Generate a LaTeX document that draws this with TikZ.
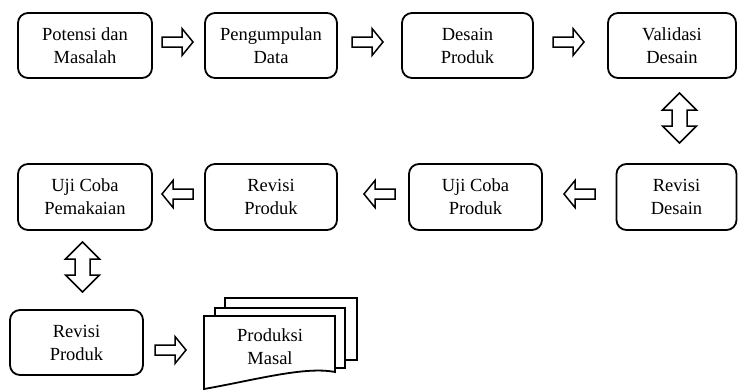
\documentclass[tikz,border=0pt]{standalone}
\usepackage{fontspec}
\setmainfont{Liberation Serif}
\begin{document}
\begin{tikzpicture}[x=1bp,y=-1bp,
  box/.style={draw, line width=1.8bp, rounded corners=10bp, inner sep=0pt,
    minimum height=65bp, align=center,
    font=\fontsize{18.5bp}{23bp}\selectfont},
  arrowline/.style={draw, line width=1.5bp, fill=white, line join=miter},
  docline/.style={draw, line width=1.8bp, fill=white},
  rarrow/.pic={\path[arrowline] (0,-5)--(20,-5)--(20,-13.5)--(31,0)--(20,13.5)--(20,5)--(0,5)--cycle;},
  larrow/.pic={\path[arrowline] (0,-5)--(-20,-5)--(-20,-13.5)--(-31,0)--(-20,13.5)--(-20,5)--(0,5)--cycle;},
  vdarrow/.pic={\path[arrowline] (0,-25)--(17,-8)--(7.5,-8)--(7.5,8)--(17,8)--(0,25)--(-17,8)--(-7.5,8)--(-7.5,-8)--(-17,-8)--cycle;}
]
\useasboundingbox (0,0) rectangle (738,390);

% row 1
\node[box, minimum width=134bp] (b1) at (85,45.5) {Potensi dan\\Masalah};
\node[box, minimum width=132bp] (b2) at (271,45.5) {Pengumpulan\\Data};
\node[box, minimum width=131bp] (b3) at (467.5,45.5) {Desain\\Produk};
\node[box, minimum width=128bp] (b4) at (672,45.5) {Validasi\\Desain};

% row 2
\node[box, minimum width=134bp, minimum height=66bp] (c1) at (85,197) {Uji Coba\\Pemakaian};
\node[box, minimum width=132bp, minimum height=66bp] (c2) at (271,197) {Revisi\\Produk};
\node[box, minimum width=133bp, minimum height=66bp] (c3) at (475.5,197) {Uji Coba\\Produk};
\node[box, minimum width=120bp, minimum height=66bp] (c4) at (676.5,197) {Revisi\\Desain};

% row 3
\node[box, minimum width=133bp] (d1) at (76.5,342.5) {Revisi\\Produk};

% multi-document
\path[docline] (225,298) rectangle (357,360);
\path[docline] (215,308) rectangle (345,368);
\path[docline] (204,316) -- (335,316) -- (335,372)
   .. controls (305,366) and (255,380) .. (204,389) -- cycle;
\node[align=center, font=\fontsize{18.5bp}{23bp}\selectfont] (pm) at (270,347) {Produksi\\Masal};

% block arrows
\pic at (162,42) {rarrow};
\pic at (352,42) {rarrow};
\pic at (553,42) {rarrow};
\pic at (679.5,118) {vdarrow};
\pic at (595,194) {larrow};
\pic at (395,194) {larrow};
\pic at (193,194) {larrow};
\pic at (82.5,267) {vdarrow};
\pic at (155,350) {rarrow};
\end{tikzpicture}
\end{document}
